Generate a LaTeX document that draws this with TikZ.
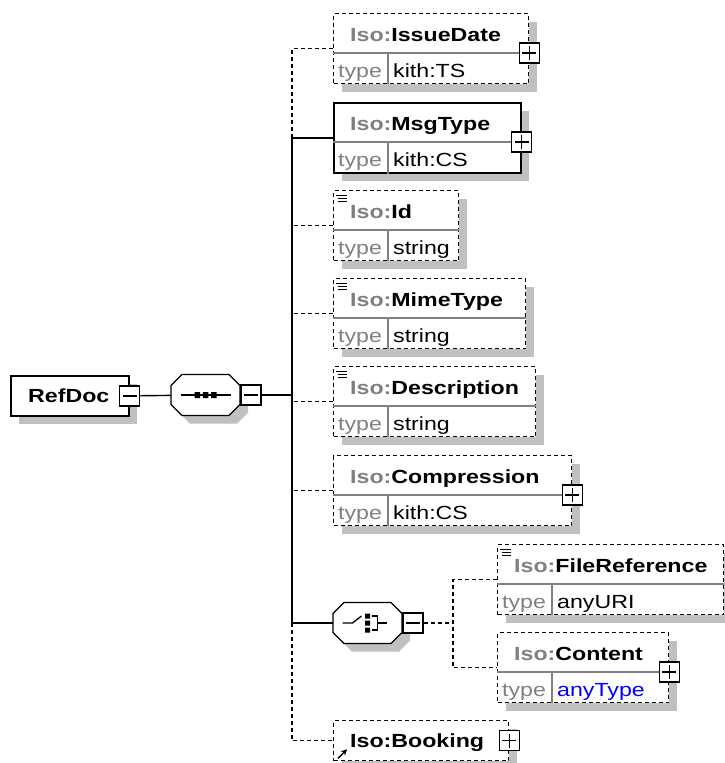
\documentclass[tikz,border=0pt]{standalone}
\usepackage{fontspec}
\setmainfont[FakeStretch=1.22]{Liberation Sans}
\usetikzlibrary{shadows}
\usetikzlibrary{arrows.meta}

\definecolor{isogray}{HTML}{808080}
\definecolor{rulegray}{HTML}{808080}
\definecolor{shadegray}{HTML}{C0C0C0}
\definecolor{typeblue}{HTML}{0000FF}

\begin{document}
\begin{tikzpicture}
		[x=1pt, y=-1pt,
		shade/.style={general shadow={fill=shadegray, shadow xshift=8pt, shadow yshift=-8pt}},
		box/.style={draw, fill=white, anchor=north west, inner sep=0pt, minimum height=70pt, shade},
		mandbox/.style={box, line width=1.7pt},
		optbox/.style={box, line width=1.3pt, dash pattern=on 4pt off 3pt},
		compositor/.style={inner sep=0pt, minimum width=69pt, minimum height=41pt},
		pm/.style={draw, fill=white, line width=1.3pt, minimum size=20pt, inner sep=0pt},
		plusbox/.style={pm, path picture={
			\draw[line width=1.3pt] ([xshift=-7pt]path picture bounding box.center) -- ([xshift=7pt]path picture bounding box.center)
				([yshift=-7pt]path picture bounding box.center) -- ([yshift=7pt]path picture bounding box.center);}},
		minusbox/.style={pm, path picture={
			\draw[line width=1.3pt] ([xshift=-7pt]path picture bounding box.center) -- ([xshift=7pt]path picture bounding box.center);}},
		txt/.style={anchor=base west, inner sep=0pt, font=\fontsize{19}{22}\selectfont},
		nametxt/.style={txt, font=\fontsize{19}{22}\selectfont\bfseries},
		typetxt/.style={txt, text=isogray},
		divider/.style={rulegray, line width=1.2pt},
		docicon/.style={line width=1pt},
		link/.style={line width=1.4pt},
		optlink/.style={link, dash pattern=on 4pt off 3pt}]
		\useasboundingbox (0,0) rectangle (725,763);

		% root and sequence
		\node[box, mandbox, minimum width=118pt, minimum height=40pt] (refdoc) at (10,375) {};
		\node[nametxt] (refdoc-name) at ([xshift=18pt,yshift=-7pt]refdoc.west) {RefDoc};
		\node[minusbox] (refdoc-minus) at (refdoc.east) {};

		\node[compositor] (seq) at (205.5,395) {};
		\node[compositor] (choice) at (367.5,623) {};
		% octagons with their shadows
		\foreach \c in {seq,choice} {
			\begin{scope}[shift={(\c.center)}]
				\fill[shadegray, shift={(8,8)}] (-23.5,-20.5) -- (23.5,-20.5) -- (34.5,-9.5) -- (34.5,9.5)
					-- (23.5,20.5) -- (-23.5,20.5) -- (-34.5,9.5) -- (-34.5,-9.5) -- cycle;
				\filldraw[fill=white, line width=1.3pt] (-23.5,-20.5) -- (23.5,-20.5) -- (34.5,-9.5) -- (34.5,9.5)
					-- (23.5,20.5) -- (-23.5,20.5) -- (-34.5,9.5) -- (-34.5,-9.5) -- cycle;
			\end{scope}
		}
		\node[minusbox, anchor=west] (seq-minus) at (seq.east) {};
		\begin{scope}[shift={(seq.center)}]
			\draw[line width=1.3pt] (-25,0) -- (25,0);
			\fill (-11,-3) rectangle (-5.5,3) (-2.75,-3) rectangle (2.75,3) (5.5,-3) rectangle (11,3);
		\end{scope}
		\coordinate (spine) at (292,395);

		% elements
		\node[optbox, minimum width=195pt] (issuedate) at (333,13) {};
		\node[nametxt] at ([xshift=17pt,yshift=-28pt]issuedate.north west) {\textcolor{isogray}{Iso:}IssueDate};
		\node[typetxt] at ([xshift=5pt,yshift=-64pt]issuedate.north west) {type};
		\node[txt] at ([xshift=60pt,yshift=-64pt]issuedate.north west) {kith:TS};
		\draw[divider] ([yshift=-40pt]issuedate.north west) -- ([yshift=-40pt]issuedate.north east);
		\draw[divider] ([xshift=55pt,yshift=-40pt]issuedate.north west) -- ([xshift=55pt]issuedate.south west);
		\node[plusbox] (issuedate-plus) at ([yshift=-40pt]issuedate.north east) {};

		\node[mandbox, minimum width=187pt] (msgtype) at (333,102) {};
		\node[nametxt] at ([xshift=17pt,yshift=-28pt]msgtype.north west) {\textcolor{isogray}{Iso:}MsgType};
		\node[typetxt] at ([xshift=5pt,yshift=-64pt]msgtype.north west) {type};
		\node[txt] at ([xshift=60pt,yshift=-64pt]msgtype.north west) {kith:CS};
		\draw[divider] ([yshift=-40pt]msgtype.north west) -- ([yshift=-40pt]msgtype.north east);
		\draw[divider] ([xshift=55pt,yshift=-40pt]msgtype.north west) -- ([xshift=55pt]msgtype.south west);
		\node[plusbox] (msgtype-plus) at ([yshift=-40pt]msgtype.north east) {};

		\node[optbox, minimum width=125pt] (id) at (333,190) {};
		\node[nametxt] at ([xshift=17pt,yshift=-28pt]id.north west) {\textcolor{isogray}{Iso:}Id};
		\node[typetxt] at ([xshift=5pt,yshift=-64pt]id.north west) {type};
		\node[txt] at ([xshift=60pt,yshift=-64pt]id.north west) {string};
		\draw[divider] ([yshift=-40pt]id.north west) -- ([yshift=-40pt]id.north east);
		\draw[divider] ([xshift=55pt,yshift=-40pt]id.north west) -- ([xshift=55pt]id.south west);
		\draw[docicon] ([xshift=3pt,yshift=-5pt]id.north west) -- ++(11,0) ++(-9,3) -- ++(9,0) ++(-9,3) -- ++(9,0);

		\node[optbox, minimum width=192pt] (mimetype) at (333,278) {};
		\node[nametxt] at ([xshift=17pt,yshift=-28pt]mimetype.north west) {\textcolor{isogray}{Iso:}MimeType};
		\node[typetxt] at ([xshift=5pt,yshift=-64pt]mimetype.north west) {type};
		\node[txt] at ([xshift=60pt,yshift=-64pt]mimetype.north west) {string};
		\draw[divider] ([yshift=-40pt]mimetype.north west) -- ([yshift=-40pt]mimetype.north east);
		\draw[divider] ([xshift=55pt,yshift=-40pt]mimetype.north west) -- ([xshift=55pt]mimetype.south west);
		\draw[docicon] ([xshift=3pt,yshift=-5pt]mimetype.north west) -- ++(11,0) ++(-9,3) -- ++(9,0) ++(-9,3) -- ++(9,0);

		\node[optbox, minimum width=202pt] (description) at (333,366) {};
		\node[nametxt] at ([xshift=17pt,yshift=-28pt]description.north west) {\textcolor{isogray}{Iso:}Description};
		\node[typetxt] at ([xshift=5pt,yshift=-64pt]description.north west) {type};
		\node[txt] at ([xshift=60pt,yshift=-64pt]description.north west) {string};
		\draw[divider] ([yshift=-40pt]description.north west) -- ([yshift=-40pt]description.north east);
		\draw[divider] ([xshift=55pt,yshift=-40pt]description.north west) -- ([xshift=55pt]description.south west);
		\draw[docicon] ([xshift=3pt,yshift=-5pt]description.north west) -- ++(11,0) ++(-9,3) -- ++(9,0) ++(-9,3) -- ++(9,0);

		\node[optbox, minimum width=238pt] (compression) at (333,455) {};
		\node[nametxt] at ([xshift=17pt,yshift=-28pt]compression.north west) {\textcolor{isogray}{Iso:}Compression};
		\node[typetxt] at ([xshift=5pt,yshift=-64pt]compression.north west) {type};
		\node[txt] at ([xshift=60pt,yshift=-64pt]compression.north west) {kith:CS};
		\draw[divider] ([yshift=-40pt]compression.north west) -- ([yshift=-40pt]compression.north east);
		\draw[divider] ([xshift=55pt,yshift=-40pt]compression.north west) -- ([xshift=55pt]compression.south west);
		\node[plusbox] (compression-plus) at ([yshift=-40pt]compression.north east) {};

		% choice
		\node[minusbox, anchor=west] (choice-minus) at (choice.east) {};
		\begin{scope}[shift={(choice.center)}]
			\draw[line width=1.3pt] (-25,0) -- (-15,0) -- (-6,-7);
			\fill (-2.5,-9.5) rectangle (2.5,-4.5) (-2.5,-2.5) rectangle (2.5,2.5) (-2.5,4.5) rectangle (2.5,9.5);
			\draw[line width=1.3pt] (4,-7) -- (10,-7) -- (10,7) -- (4,7) (10,0) -- (19,0);
		\end{scope}
		\coordinate (branch) at (453,623);

		\node[optbox, minimum width=226pt] (fileref) at (497,544) {};
		\node[nametxt] at ([xshift=17pt,yshift=-28pt]fileref.north west) {\textcolor{isogray}{Iso:}FileReference};
		\node[typetxt] at ([xshift=5pt,yshift=-64pt]fileref.north west) {type};
		\node[txt] at ([xshift=60pt,yshift=-64pt]fileref.north west) {anyURI};
		\draw[divider] ([yshift=-40pt]fileref.north west) -- ([yshift=-40pt]fileref.north east);
		\draw[divider] ([xshift=55pt,yshift=-40pt]fileref.north west) -- ([xshift=55pt]fileref.south west);
		\draw[docicon] ([xshift=3pt,yshift=-5pt]fileref.north west) -- ++(11,0) ++(-9,3) -- ++(9,0) ++(-9,3) -- ++(9,0);

		\node[optbox, minimum width=171pt] (content) at (497,632) {};
		\node[nametxt] at ([xshift=17pt,yshift=-28pt]content.north west) {\textcolor{isogray}{Iso:}Content};
		\node[typetxt] at ([xshift=5pt,yshift=-64pt]content.north west) {type};
		\node[txt, text=typeblue] at ([xshift=60pt,yshift=-64pt]content.north west) {anyType};
		\draw[divider] ([yshift=-40pt]content.north west) -- ([yshift=-40pt]content.north east);
		\draw[divider] ([xshift=55pt,yshift=-40pt]content.north west) -- ([xshift=55pt]content.south west);
		\node[plusbox] (content-plus) at ([yshift=-40pt]content.north east) {};

		\node[optbox, minimum width=175pt, minimum height=40pt] (booking) at (333,720) {};
		\node[nametxt] at ([xshift=17pt,yshift=-7pt]booking.west) {Iso:Booking};
		\node[plusbox] (booking-plus) at (booking.east) {};
		\draw[-{Stealth[length=6pt,width=6pt]}, line width=1.5pt] ([xshift=5pt,yshift=3pt]booking.south west) -- ++(9,-9);

		% connectors
		\draw[link] (refdoc-minus) -- (seq);
		\draw[link] (seq-minus) -- (seq-minus -| spine);
		\draw[optlink] (issuedate.west) -- (issuedate.west -| spine) -- (msgtype.west -| spine);
		\draw[link] (msgtype.west) -- (msgtype.west -| spine) -- (choice.west -| spine) -- (choice.west);
		\draw[optlink] (id.west) -- (id.west -| spine);
		\draw[optlink] (mimetype.west) -- (mimetype.west -| spine);
		\draw[optlink] (description.west) -- (description.west -| spine);
		\draw[optlink] (compression.west) -- (compression.west -| spine);
		\draw[optlink] (choice.west -| spine) |- (booking.west);
		\draw[optlink] (choice-minus) -- (branch);
		\draw[optlink] (fileref.west) -| (branch) |- (content.west);
	\end{tikzpicture}
\end{document}
